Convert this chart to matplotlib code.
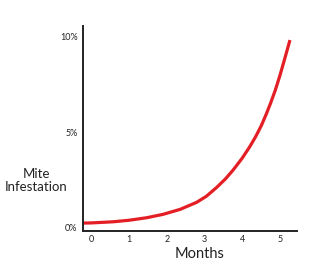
import matplotlib.pyplot as plt

# values
months = [-0.22, 0.0, 0.3, 0.58, 1.0, 1.46, 1.90, 2.35, 2.79, 3.05, 3.32, 3.55, 3.76,
          4.0, 4.20, 4.36, 4.51, 4.64, 4.76, 4.88, 5.00, 5.13, 5.27]
infestation = [0.21, 0.22, 0.25, 0.28, 0.36, 0.49, 0.67, 0.93, 1.30, 1.62, 2.08, 2.52, 3.0,
               3.62, 4.22, 4.76, 5.34, 5.94, 6.54, 7.2, 7.95, 8.85, 9.84]

x_ticks = [0, 1, 2, 3, 4, 5]
y_ticks = [0, 5, 10]
y_tick_labels = ["0%", "5%", "10%"]

plt.rcParams["font.family"] = ["Lato", "DejaVu Sans"]

fig = plt.figure(figsize=(3.3, 2.65), dpi=100)
ax = fig.add_axes([0.2515, 0.128, 0.65, 0.774])

ax.plot(months, infestation, color="#e31e24", linewidth=2.3,
        solid_capstyle="butt", solid_joinstyle="round")

ax.set_xlim(-0.225, 5.47)
ax.set_ylim(-0.21, 10.58)
ax.set_xticks(x_ticks)
ax.set_yticks(y_ticks)
ax.set_yticklabels(y_tick_labels)
ax.tick_params(length=0, labelsize=6.5, colors="#222222")
ax.tick_params(axis="x", pad=3)
ax.tick_params(axis="y", pad=4)

for side in ["top", "right"]:
    ax.spines[side].set_visible(False)
for side in ["left", "bottom"]:
    ax.spines[side].set_linewidth(1.4)
    ax.spines[side].set_color("#222222")

fig.text(0.605, 0.04, "Months", ha="center", va="center", fontsize=10.5, color="#222222")
fig.text(0.11, 0.318, "Mite\nInfestation", ha="center", va="center", fontsize=9.5,
         linespacing=1.15, color="#222222")

fig.savefig("out.png", dpi=100)
